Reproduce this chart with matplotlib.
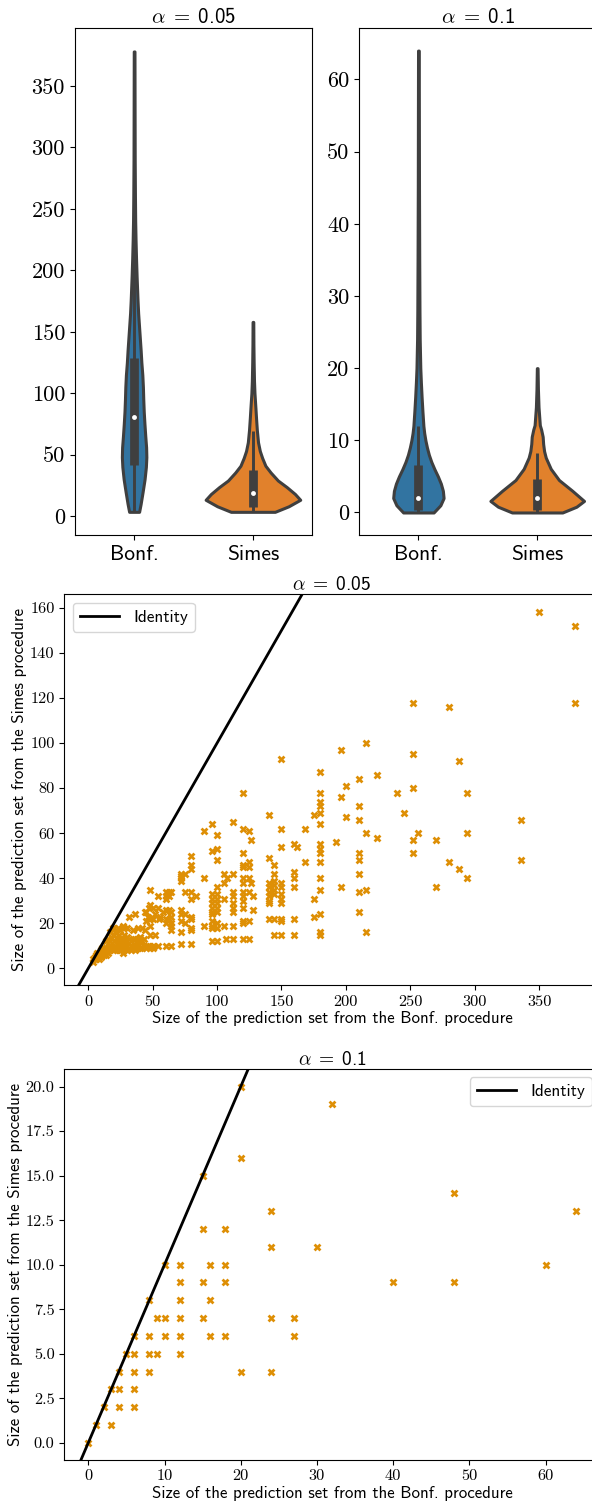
import numpy as np
import matplotlib
matplotlib.use("Agg")
import matplotlib.pyplot as plt
from matplotlib.ticker import MultipleLocator

plt.rcParams['font.family'] = 'cmss10'
plt.rcParams['mathtext.fontset'] = 'cm'
plt.rcParams['axes.unicode_minus'] = False

categories = ["Bonf.", "Simes"]
alphas = ["0.05", "0.1"]

# --- scatter, alpha = 0.05 (Bonf. size, Simes size) ---
bonf_05 = [4, 4, 5, 5, 6, 6, 6, 7, 7, 8, 8, 8, 9, 9, 10, 10, 10, 11, 11, 12, 12, 12, 13,
           14, 14, 14, 15, 15, 15, 16, 16, 17, 17, 17, 18, 18, 18, 19, 19, 20, 20, 20, 20,
           21, 21, 22, 22, 22, 23, 23, 24, 24, 24, 24, 25, 25, 25, 26, 26, 27, 27, 27,
           28, 28, 28, 28, 29, 30, 30, 30, 30, 32, 32, 32, 33, 33, 34, 35, 35, 35,
           36, 36, 36, 36, 38, 38, 39, 39, 39, 40, 40, 42, 42, 42, 43, 43, 44, 44,
           45, 45, 45, 46, 46, 47, 48, 48, 48, 48, 48, 48, 48, 50, 50, 50, 50,
           52, 52, 54, 54, 54, 55, 56, 58, 60, 60, 60, 60, 60, 60, 60, 63, 63, 63, 63,
           64, 64, 64, 64, 64, 64, 64, 72, 72, 72, 72, 72, 72, 72, 72, 72, 75, 75, 75, 75,
           80, 80, 80, 80, 80, 80, 80, 80, 80, 80, 84, 90, 90, 90,
           96, 96, 96, 96, 96, 96, 96, 96, 96, 96, 96, 96,
           100, 100, 100, 100, 100, 100, 100, 100, 100, 100, 100, 100,
           105, 105, 105, 105, 107, 108, 112, 112, 112, 112, 112, 112, 112, 112, 112,
           120, 120, 120, 120, 120, 120, 120, 120, 120, 120, 120, 120, 120, 120,
           125, 125, 125, 125, 125, 125, 125, 126, 126, 128, 128,
           140, 140, 140, 140, 140, 140, 140, 140, 140, 144, 144, 144, 144, 144, 144, 144, 144,
           150, 150, 150, 150, 150, 150, 150, 150, 150, 150, 150,
           160, 160, 160, 160, 160, 160, 162, 168, 168, 175, 175, 175,
           180, 180, 180, 180, 180, 180, 180, 180, 180, 180, 180, 180, 180, 180, 180,
           192, 196, 196, 196, 200, 200, 210, 210, 210, 210, 210, 210, 210, 210,
           216, 216, 216, 216, 224, 224, 240, 245, 252, 252, 252, 252, 252, 256,
           270, 270, 280, 280, 288, 288, 294, 294, 294, 336, 336, 350, 378, 378]
simes_05 = [3, 4, 4, 5, 4, 5, 6, 5, 7, 4, 5, 7, 6, 7, 5, 6, 8, 6, 9, 6, 7, 9, 8,
            6, 9, 12, 7, 9, 13, 8, 10, 8, 12, 16, 9, 10, 14, 8, 18, 9, 12, 15, 18,
            10, 16, 8, 11, 13, 9, 18, 8, 10, 13, 15, 8, 11, 17, 9, 12, 7, 13, 19,
            8, 10, 15, 18, 12, 8, 10, 14, 18, 9, 13, 23, 8, 12, 10, 9, 13, 17,
            8, 10, 13, 24, 9, 12, 10, 13, 18, 9, 14, 9, 12, 18, 10, 13, 17, 25,
            9, 21, 25, 10, 23, 27, 9, 10, 15, 19, 22, 28, 35, 9, 10, 22, 27,
            15, 24, 10, 27, 32, 22, 23, 25, 10, 20, 22, 26, 31, 32, 34, 22, 26, 32, 34,
            10, 17, 19, 20, 23, 25, 34, 11, 16, 21, 24, 26, 39, 40, 41, 42, 20, 24, 34, 42,
            11, 17, 18, 22, 23, 31, 34, 44, 46, 50, 32, 19, 40, 61,
            12, 18, 19, 21, 24, 25, 27, 29, 31, 33, 52, 64,
            12, 18, 20, 25, 27, 29, 31, 33, 36, 48, 53, 59,
            19, 31, 38, 42, 13, 40, 13, 19, 25, 27, 29, 32, 34, 42, 65,
            13, 20, 21, 27, 30, 32, 34, 38, 40, 45, 46, 51, 62, 78,
            13, 21, 34, 40, 45, 47, 61, 38, 57, 26, 32,
            22, 29, 30, 32, 34, 36, 38, 49, 68, 15, 22, 33, 35, 37, 39, 42, 46,
            15, 21, 22, 29, 31, 33, 36, 38, 54, 62, 93,
            15, 22, 36, 40, 43, 55, 54, 47, 62, 23, 31, 68,
            15, 16, 24, 35, 40, 47, 51, 53, 55, 64, 69, 72, 74, 78, 87,
            56, 36, 76, 97, 67, 81, 25, 34, 42, 48, 51, 66, 72, 84,
            16, 35, 60, 100, 58, 86, 78, 69, 51, 57, 80, 95, 118, 60,
            36, 57, 47, 116, 44, 92, 40, 60, 78, 48, 66, 158, 118, 152]

# --- scatter, alpha = 0.1 ---
bonf_10 = [0, 1, 2, 3, 3, 4, 4, 4, 5, 6, 6, 6, 6, 6, 8, 8, 8, 8, 9, 9, 10, 10, 10,
           12, 12, 12, 12, 12, 12, 15, 15, 15, 15, 16, 16, 16, 18, 18, 18, 18,
           20, 20, 20, 24, 24, 24, 24, 27, 27, 30, 32, 40, 48, 48, 60, 64]
simes_10 = [0, 1, 2, 1, 3, 2, 3, 4, 5, 2, 3, 4, 5, 6, 4, 5, 6, 8, 5, 7, 6, 7, 10,
            5, 6, 7, 8, 9, 10, 7, 9, 12, 15, 6, 8, 10, 6, 9, 10, 12,
            4, 16, 20, 4, 7, 11, 13, 6, 7, 11, 19, 9, 9, 14, 10, 13]

# --- violin outlines: level -> half width (category units) ---
v05_bonf_lev = [3.5, 10, 20, 30, 40, 48, 56, 65, 75, 85, 95, 105, 115, 125, 135, 145,
                155, 165, 175, 185, 195, 210, 225, 240, 260, 290, 330, 378]
v05_bonf_hw = [0.042, 0.055, 0.072, 0.088, 0.099, 0.103, 0.101, 0.094, 0.087, 0.081,
               0.077, 0.074, 0.069, 0.061, 0.055, 0.048, 0.041, 0.034, 0.029, 0.025,
               0.021, 0.016, 0.012, 0.009, 0.007, 0.005, 0.004, 0.003]
v05_simes_lev = [3.5, 8, 13.3, 18, 23.6, 29, 35.5, 41, 47.3, 53, 60, 70, 80, 88,
                 100, 110, 125, 140, 158]
v05_simes_hw = [0.185, 0.30, 0.398, 0.354, 0.285, 0.21, 0.149, 0.105, 0.078, 0.058,
                0.043, 0.033, 0.026, 0.021, 0.013, 0.009, 0.006, 0.004, 0.003]
v10_bonf_lev = [0, 1, 2, 3, 4, 5, 6, 7, 8, 9, 10, 11, 12, 14, 16, 18, 20, 24, 28,
                35, 45, 55, 64]
v10_bonf_hw = [0.128, 0.185, 0.212, 0.206, 0.189, 0.164, 0.135, 0.109, 0.088, 0.072,
               0.059, 0.049, 0.042, 0.034, 0.027, 0.021, 0.016, 0.011, 0.009,
               0.007, 0.005, 0.004, 0.003]
v10_simes_lev = [0, 0.8, 1.6, 3.0, 4.5, 6.05, 7.6, 8.5, 9.5, 10.5, 11.5, 12.1, 14.6,
                 17.1, 20]
v10_simes_hw = [0.212, 0.33, 0.394, 0.296, 0.183, 0.114, 0.072, 0.058, 0.050, 0.046,
                0.033, 0.022, 0.011, 0.006, 0.003]

# box stats: q1, median, q3, whisker low, whisker high
box_05 = {"Bonf.": [41.3, 80.4, 128.6, 3.5, 256], "Simes": [7.4, 19.2, 37.5, 3.5, 69.4]}
box_10 = {"Bonf.": [0.4, 2, 6.6, 0, 12], "Simes": [0.4, 2, 4.6, 0, 8.3]}

violin_colors = {"Bonf.": "#3274a1", "Simes": "#e1812c"}
edge = "#3f3f3f"
point_color = "#de8f05"


def draw_violins(ax, profiles, boxes):
    for pos, name in enumerate(categories):
        lev, hw = np.asarray(profiles[name][0]), np.asarray(profiles[name][1])
        ax.fill_betweenx(lev, pos - hw, pos + hw, facecolor=violin_colors[name],
                         edgecolor=edge, linewidth=2.2, zorder=1)
        q1, med, q3, lo, hi = boxes[name]
        ax.plot([pos, pos], [lo, hi], color=edge, lw=2.1, solid_capstyle='butt', zorder=2)
        ax.plot([pos, pos], [q1, q3], color=edge, lw=6.3, solid_capstyle='butt', zorder=3)
        ax.plot([pos], [med], 'o', color='white', ms=3.5, mew=0, zorder=4)
    ax.set_xlim(-0.5, 1.5)
    ax.set_xticks([0, 1])
    ax.set_xticklabels(categories)
    ax.tick_params(axis='x', labelsize=15.5)
    ax.tick_params(axis='y', labelsize=16, labelfontfamily='cmr10')


def alpha_title(a):
    return r'$\alpha\;=\;$' + a


fig = plt.figure(figsize=(5.92, 15.03), dpi=100)

ax1 = fig.add_axes([0.1262, 0.644, 0.4014, 0.3377])
draw_violins(ax1, {"Bonf.": (v05_bonf_lev, v05_bonf_hw), "Simes": (v05_simes_lev, v05_simes_hw)}, box_05)
ax1.set_ylim(-15.4, 397.5)
ax1.yaxis.set_major_locator(MultipleLocator(50))
ax1.set_title(alpha_title(alphas[0]), fontsize=15, pad=3)

ax2 = fig.add_axes([0.6064, 0.644, 0.4014, 0.3377])
draw_violins(ax2, {"Bonf.": (v10_bonf_lev, v10_bonf_hw), "Simes": (v10_simes_lev, v10_simes_hw)}, box_10)
ax2.set_ylim(-3.13, 67.2)
ax2.yaxis.set_major_locator(MultipleLocator(10))
ax2.set_title(alpha_title(alphas[1]), fontsize=15, pad=3)

xlab = "Size of the prediction set from the Bonf. procedure"
ylab = "Size of the prediction set from the Simes procedure"

ax3 = fig.add_axes([0.1086, 0.3446, 0.9041, 0.2601])
ax3.scatter(bonf_05, simes_05, marker='X', s=32, color=point_color, linewidths=0, zorder=2)
ax3.axline((0, 0), slope=1, color='black', lw=2, label='Identity', zorder=3)
ax3.set_xlim(-18.6, 396.9)
ax3.set_ylim(-7.4, 166.1)
ax3.xaxis.set_major_locator(MultipleLocator(50))
ax3.yaxis.set_major_locator(MultipleLocator(20))
ax3.set_title(alpha_title(alphas[0]), fontsize=14, pad=3)
ax3.set_xlabel(xlab, fontsize=12.1, labelpad=2)
ax3.set_ylabel(ylab, fontsize=12.1, labelpad=2)
ax3.tick_params(labelsize=11.7, labelfontfamily='cmr10')
ax3.legend(loc='upper left', fontsize=12.4, handlelength=2.3)

ax4 = fig.add_axes([0.1086, 0.0286, 0.9056, 0.2603])
ax4.scatter(bonf_10, simes_10, marker='X', s=32, color=point_color, linewidths=0, zorder=2)
ax4.axline((0, 0), slope=1, color='black', lw=2, label='Identity', zorder=3)
ax4.set_xlim(-3.15, 67.2)
ax4.set_ylim(-0.97, 21.0)
ax4.xaxis.set_major_locator(MultipleLocator(10))
ax4.yaxis.set_major_locator(MultipleLocator(2.5))
ax4.set_title(alpha_title(alphas[1]), fontsize=14, pad=2)
ax4.set_xlabel(xlab, fontsize=12.1, labelpad=2)
ax4.set_ylabel(ylab, fontsize=12.1, labelpad=2)
ax4.tick_params(labelsize=11.7, labelfontfamily='cmr10')
ax4.legend(loc='upper right', fontsize=12.4, handlelength=2.3)

fig.savefig("out.png", dpi=100)
